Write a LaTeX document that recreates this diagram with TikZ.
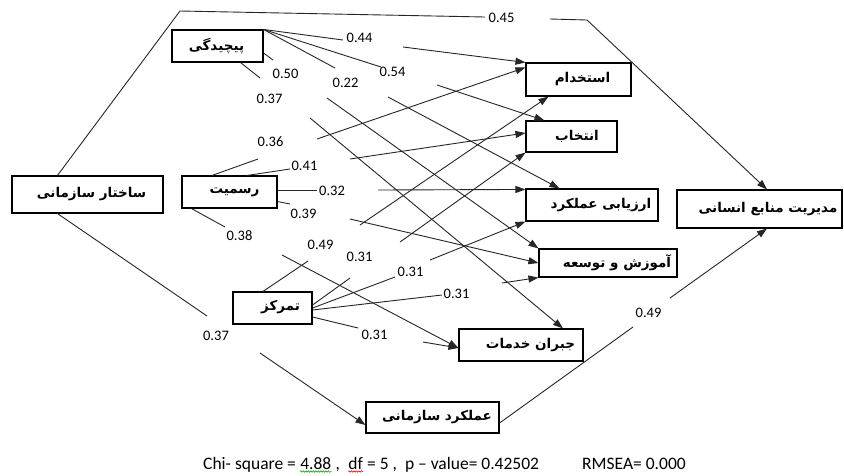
\documentclass[tikz,border=0pt]{standalone}
\usepackage{fontspec}
\setmainfont{Carlito}
\newfontfamily\fafont[Script=Arabic]{DejaVu Sans}
\TeXXeTstate=1
\usetikzlibrary{arrows.meta,decorations.pathmorphing}
\begin{document}
\begin{tikzpicture}[x=1pt,y=-1pt,
  box/.style={draw, line width=1.1pt, inner sep=0pt},
  fa/.style={font=\fafont\bfseries\fontsize{13.5}{16}\selectfont, inner sep=0pt},
  lab/.style={font=\fontsize{14.5}{16}\selectfont, inner sep=0pt},
  ft/.style={font=\fontsize{17.5}{20}\selectfont, inner sep=0pt, anchor=base west},
  con/.style={line width=0.9pt, draw=black!85},
  arr/.style={con, -{Triangle[length=10pt,width=7pt]}},
  wav/.style={line width=0.5pt, decorate, decoration={snake, amplitude=0.8pt, segment length=2.5pt}}]

\fill[white] (0,0) rectangle (844,475);
\useasboundingbox (0,0) rectangle (844,475);

% boxes
\node[box, minimum width=151pt, minimum height=37pt] (sakh)  at (87.5,194.5) {};
\node[box, minimum width=91pt,  minimum height=32pt] (pich)  at (217.5,46) {};
\node[box, minimum width=95pt,  minimum height=32pt] (rasm)  at (229.5,192) {};
\node[box, minimum width=79pt,  minimum height=32pt] (tamar) at (272.5,308) {};
\node[box, minimum width=105pt, minimum height=33pt] (estk)  at (578.5,79.5) {};
\node[box, minimum width=91pt,  minimum height=31pt] (entk)  at (571.5,136.5) {};
\node[box, minimum width=132pt, minimum height=32pt] (arzy)  at (592,205) {};
\node[box, minimum width=138pt, minimum height=28pt] (amuz)  at (608,263) {};
\node[box, minimum width=124pt, minimum height=32pt] (jobr)  at (521,345) {};
\node[box, minimum width=133pt, minimum height=31pt] (amal)  at (432.5,417.5) {};
\node[box, minimum width=165pt, minimum height=38pt] (modir) at (759.5,209) {};

% box texts
\node[fa] (sakh-t)  at (91.5,194) {\beginR ساختار سازمانی\endR};
\node[fa] (pich-t)  at (216.5,46) {\beginR پیچیدگی\endR};
\node[fa] (rasm-t)  at (234.5,192) {\beginR رسمیت\endR};
\node[fa] (tamar-t) at (280.5,307) {\beginR تمرکز\endR};
\node[fa] (estk-t)  at (582.5,79) {\beginR استخدام\endR};
\node[fa] (entk-t)  at (577,136) {\beginR انتخاب\endR};
\node[fa] (arzy-t)  at (601,205) {\beginR ارزیابی عملکرد\endR};
\node[fa] (amuz-t)  at (617,263) {\beginR آموزش و توسعه\endR};
\node[fa] (jobr-t)  at (530.5,345) {\beginR جبران خدمات\endR};
\node[fa] (amal-t)  at (437,417) {\beginR عملکرد سازمانی\endR};
\node[fa] (modir-t) at (768,209) {\beginR مدیریت منابع انسانی\endR};

% coefficient labels
\node[lab] (l044)  at (359.5,38)  {0.44};
\node[lab] (l050)  at (285.5,74)  {0.50};
\node[lab] (l022)  at (345.5,82.5) {0.22};
\node[lab] (l054)  at (392.5,72)  {0.54};
\node[lab] (l037a) at (269.5,99)  {0.37};
\node[lab] (l036)  at (270.5,142) {0.36};
\node[lab] (l041)  at (304.5,166) {0.41};
\node[lab] (l032)  at (332,191)   {0.32};
\node[lab] (l039)  at (303.5,214) {0.39};
\node[lab] (l038)  at (239.5,236) {0.38};
\node[lab] (l049a) at (320.5,245) {0.49};
\node[lab] (l031a) at (359.5,257) {0.31};
\node[lab] (l031b) at (410.5,271.5) {0.31};
\node[lab] (l031c) at (456.5,293.5) {0.31};
\node[lab] (l031d) at (374.5,334.5) {0.31};
\node[lab] (l037b) at (216,336)   {0.37};
\node[lab] (l045)  at (501.5,17.5) {0.45};
\node[lab] (l049b) at (648.5,312.5) {0.49};

% gap coordinates
\coordinate (a1) at (343,40);  \coordinate (b1) at (403,47);
\coordinate (a2) at (381,67);  \coordinate (b2) at (437,85);
\coordinate (a3) at (335,68);  \coordinate (b3) at (388,97);
\coordinate (a4) at (273,60);  \coordinate (b4) at (327,98);
\coordinate (a5) at (260,78);  \coordinate (b5) at (310,118);
\coordinate (a6) at (258,159); \coordinate (b6) at (317,139);
\coordinate (a7) at (290,169); \coordinate (b7) at (350,159);
\coordinate (a8) at (317,190); \coordinate (b8) at (378,190);
\coordinate (a9) at (290,204); \coordinate (b9) at (350,219);
\coordinate (a10) at (225,227); \coordinate (b10) at (282,255);
\coordinate (a11) at (308,261); \coordinate (b11) at (360,225);
\coordinate (a12) at (350,278); \coordinate (b12) at (400,242);
\coordinate (a13) at (395,277); \coordinate (b13) at (430,260);
\coordinate (a14) at (442,295); \coordinate (b14) at (502,283);
\coordinate (a15) at (358,328); \coordinate (b15) at (423,342);
\coordinate (a16) at (207,316); \coordinate (b16) at (260,353);
\coordinate (a17) at (633,327); \coordinate (b17) at (670,298);
\coordinate (k1) at (180,11); \coordinate (a18) at (485,17);
\coordinate (b18) at (550,19); \coordinate (k2) at (587,20);

% pich
\draw[con] (pich.north east) -- (a1);
\draw[arr] (b1) -- (estk.north west);
\draw[con] (pich.north east) -- (a2);
\draw[arr] (b2) -- ([xshift=19pt]entk.north west);
\draw[con] (pich.north east) -- (a3);
\draw[arr] (b3) -- ([xshift=34pt]arzy.north west);
\draw[con] ([yshift=-7pt]pich.east) -- (a4);
\draw[arr] (b4) -- (amuz.north west);
\draw[con] ([xshift=23pt]pich.south) -- (a5);
\draw[arr] (b5) -- ([xshift=42pt]jobr.north);
% rasm
\draw[con] ([xshift=-17.5pt]rasm.north) -- (a6);
\draw[arr] (b6) -- ([yshift=-5pt]estk.north west);
\draw[con] ([xshift=17.5pt]rasm.north) -- (a7);
\draw[arr] (b7) -- ([yshift=3.5pt]entk.west);
\draw[con] ([yshift=2pt]rasm.east) -- (a8);
\draw[arr] (b8) -- ([yshift=-1pt]arzy.north west);
\draw[con] ([yshift=7pt]rasm.south east) -- (a9);
\draw[arr] (b9) -- (amuz.west);
\draw[con] ([xshift=10pt]rasm.south west) -- (a10);
\draw[arr] (b10) -- ([yshift=-3pt]jobr.west);
% tamar
\draw[con] ([xshift=-9.5pt]tamar.north) -- (a11);
\draw[arr] (b11) -- ([xshift=-30pt]estk.south);
\draw[con] ([yshift=3pt]tamar.east) -- (a12);
\draw[arr] (b12) -- (entk.south west);
\draw[con] (tamar.east) -- (a13);
\draw[arr] (b13) -- (arzy.south west);
\draw[con] ([yshift=-2pt]tamar.east) -- (a14);
\draw[arr] (b14) -- (amuz.south west);
\draw[con] ([yshift=-9pt]tamar.east) -- (a15);
\draw[arr] (b15) -- ([yshift=-3pt]jobr.west);
% sakh
\draw[con] ([xshift=46pt]sakh.south west) -- (a16);
\draw[arr] (b16) -- ([yshift=-7.5pt]amal.west);
\draw[con] ([xshift=46pt]sakh.north west) -- (k1) -- (a18);
\draw[arr] (b18) -- (k2) -- ([xshift=7.5pt]modir.north);
% amal
\draw[con] ([yshift=-5.5pt]amal.east) -- (a17);
\draw[arr] (b17) -- ([xshift=7.5pt]modir.south);

% footer
\node[ft] (f1) at (203,469) {Chi- square =\ \null};
\node[ft] (f2) at (f1.base east) {4.88};
\node[ft] (f3) at (f2.base east) {\ ,\ \ \null};
\node[ft] (f4) at (f3.base east) {df};
\node[ft] (f5) at (f4.base east) {\ = 5 ,\ \ p -- value= 0.42502};
\node[ft] (f6) at (582,469) {RMSEA= 0.000};
\draw[wav, draw=green!60!black] ([yshift=-2.5pt]f2.base west) -- ([yshift=-2.5pt]f2.base east);
\draw[wav, draw=red!80!black] ([yshift=-2.5pt]f4.base west) -- ([yshift=-2.5pt]f4.base east);
\end{tikzpicture}
\end{document}
